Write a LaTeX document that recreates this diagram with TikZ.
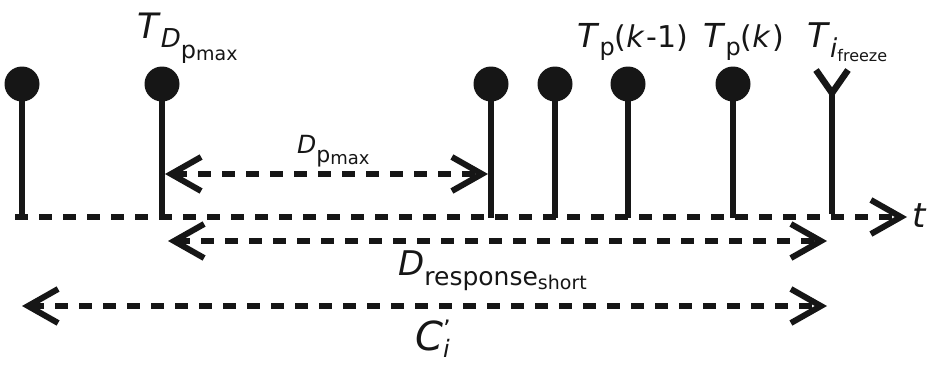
\documentclass[tikz,border=0pt]{standalone}
\usepackage{fontspec}
\setmainfont{DejaVu Sans}
\usetikzlibrary{arrows.meta}
\definecolor{ink}{HTML}{161616}
\newcommand\fsz[1]{\fontsize{#1}{#1}\selectfont}
\newcommand\lowr[2]{\raisebox{-#1pt}{#2}}
\tikzset{barb/.tip={Straight Barb[length=30pt,width=34pt,line width=6pt]}}
\begin{document}
\begin{tikzpicture}[x=1pt,y=-1pt,
  stem/.style={line width=6pt, draw=ink},
  ball/.style={circle, fill=ink, minimum size=35pt, inner sep=0pt},
  dashline/.style={line width=5.5pt, draw=ink, dash pattern=on 13pt off 11pt},
  span/.style={dashline, barb-barb},
  lbl/.style={inner sep=0pt, anchor=base west, text=ink}]
\useasboundingbox (0,0) rectangle (934,365);
% axis
\coordinate (axL) at (15,217);
\coordinate (axR) at (907,217);
\draw[dashline, -barb] (axL) -- (axR);
\node[lbl] (t) at (912,227) {\fsz{34}\textit{t}};
% events
\foreach \n/\x in {1/22,2/162,3/491,4/555,5/628,6/733}{
  \node[ball] (b\n) at (\x,84) {};
  \coordinate (f\n) at (\x,218);
  \draw[stem] (b\n.center) -- (f\n);
}
% freeze marker
\coordinate (yl) at (816,70);
\coordinate (yr) at (848,70);
\coordinate (yj) at (832,93);
\coordinate (yb) at (832,214);
\draw[stem, line width=6.5pt] (yl) -- (yj) -- (yr);
\draw[stem] (yj) -- (yb);
% spans
\coordinate (dpL) at (165,174);
\coordinate (dpR) at (488,174);
\draw[span] (dpL) -- (dpR);
\coordinate (drL) at (168,241);
\coordinate (drR) at (827,241);
\draw[span] (drL) -- (drR);
\coordinate (cL) at (22,306);
\coordinate (cR) at (827,306);
\draw[span] (cL) -- (cR);
% labels
\node[lbl] (lT) at (137,38) {\fsz{35}\textit{T}\lowr{9}{\fsz{26}\textit{D}\lowr{11}{\fsz{24}p\lowr{2}{\fsz{19}max}}}};
\node[lbl] (lD) at (297,153) {\fsz{25}\textit{D}\lowr{9}{\fsz{22}p\lowr{2}{\fsz{18}max}}};
\node[lbl] (lk1) at (577,47) {\fsz{33}\textit{T}\lowr{8}{\fsz{24}p}\fsz{30}(\textit{k}\kern2pt-1)};
\node[lbl] (lk) at (703,47) {\fsz{33}\textit{T}\lowr{8}{\fsz{24}p}\fsz{30}(\textit{k}\kern2pt)};
\node[lbl] (lf) at (807,47) {\fsz{34}\textit{T}\lowr{10}{\fsz{26}\textit{i}\lowr{4}{\fsz{16}freeze}}};
\node[lbl] (lr) at (398,275) {\fsz{34}\textit{D}\lowr{10}{\fsz{25}response\lowr{4}{\fsz{19}short}}};
\node[lbl] (lc) at (415,350) {\fsz{40}\textit{C}\rlap{\raisebox{13pt}{\fsz{24}'}}\lowr{7}{\fsz{24}\textit{i}}};
\end{tikzpicture}
\end{document}
